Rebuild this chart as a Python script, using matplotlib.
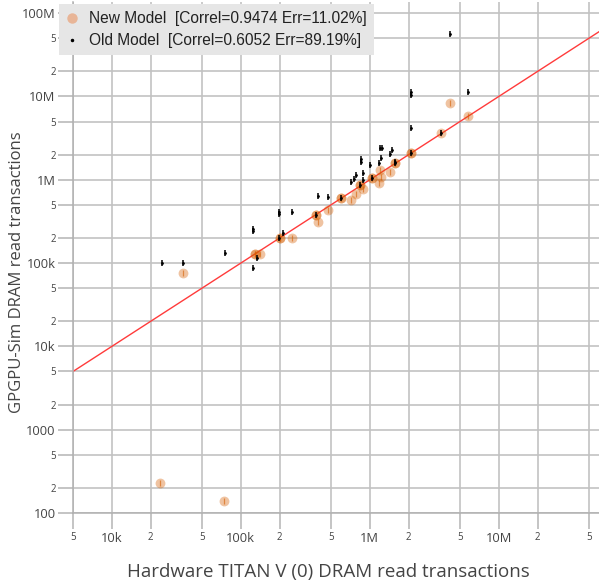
import numpy as np
import matplotlib
matplotlib.use("Agg")
import matplotlib.pyplot as plt
from matplotlib.lines import Line2D

# New model: (hardware, simulator) DRAM read transactions
new_hw = [23.6e3, 74e3, 35.8e3, 129e3, 129e3, 140e3, 201e3, 201e3, 250e3, 380e3, 380e3,
          398e3, 476e3, 598e3, 598e3, 711e3, 777e3, 843e3, 843e3, 891e3, 1.04e6, 1.04e6,
          1.17e6, 1.2e6, 1.23e6, 1.43e6, 1.57e6, 1.57e6, 2.07e6, 2.07e6, 3.54e6, 4.18e6, 5.74e6]
new_sim = [229, 139, 75e3, 128e3, 128e3, 128e3, 199e3, 199e3, 202e3, 378e3, 378e3,
           314e3, 434e3, 604e3, 604e3, 571e3, 676e3, 860e3, 860e3, 770e3, 1.05e6, 1.05e6,
           923e3, 1.31e6, 1.07e6, 1.25e6, 1.58e6, 1.58e6, 2.11e6, 2.11e6, 3.61e6, 8.28e6, 5.83e6]

# Old model
old_hw = [24.4e3, 35.8e3, 75.4e3, 125e3, 125e3, 125e3, 133e3, 199e3, 199e3, 211e3, 199e3,
          250e3, 380e3, 399e3, 476e3, 598e3, 711e3, 754e3, 776e3, 849e3, 849e3, 891e3,
          891e3, 843e3, 1.0e6, 1.04e6, 1.17e6, 1.21e6, 1.25e6, 1.23e6, 1.43e6, 1.49e6,
          1.57e6, 1.57e6, 2.07e6, 2.07e6, 2.07e6, 2.07e6, 3.54e6, 5.74e6, 4.18e6]
old_sim = [99.6e3, 99.6e3, 131e3, 255e3, 240e3, 86.5e3, 116e3, 415e3, 390e3, 228e3, 199e3,
           410e3, 378e3, 646e3, 627e3, 604e3, 948e3, 1.01e6, 1.13e6, 1.78e6, 1.64e6, 1.22e6,
           995e3, 860e3, 1.51e6, 1.05e6, 1.58e6, 2.39e6, 2.39e6, 1.81e6, 2.04e6, 2.28e6,
           1.65e6, 1.58e6, 11.4e6, 10.4e6, 4.22e6, 2.11e6, 3.61e6, 11.4e6, 56e6]

new_label = "New Model  [Correl=0.9474 Err=11.02%]"
old_label = "Old Model  [Correl=0.6052 Err=89.19%]"

x_ticks = [5e3, 1e4, 2e4, 5e4, 1e5, 2e5, 5e5, 1e6, 2e6, 5e6, 1e7, 2e7, 5e7]
x_labels = ["5", "10k", "2", "5", "100k", "2", "5", "1M", "2", "5", "10M", "2", "5"]
y_ticks = [1e2, 2e2, 5e2, 1e3, 2e3, 5e3, 1e4, 2e4, 5e4, 1e5, 2e5, 5e5,
           1e6, 2e6, 5e6, 1e7, 2e7, 5e7, 1e8]
y_labels = ["100", "2", "5", "1000", "2", "5", "10k", "2", "5", "100k", "2", "5",
            "1M", "2", "5", "10M", "2", "5", "100M"]

W, H = 599, 582
fig = plt.figure(figsize=(W / 100, H / 100), dpi=100)
ax = fig.add_axes([73 / W, (H - 513) / H, 526 / W, 511 / H])
ax.set_xscale("log")
ax.set_yscale("log")
ax.set_xlim(5e3, 10 ** 7.777)
ax.set_ylim(100, 10 ** 8.134)

grid_c = "#c2c2c2"
ax.set_xticks(x_ticks)
ax.set_xticklabels(x_labels)
ax.set_yticks(y_ticks)
ax.set_yticklabels(y_labels)
ax.minorticks_off()
ax.grid(True, color=grid_c, lw=1.2)
ax.set_axisbelow(True)
ax.tick_params(axis="x", length=11.5, pad=2)
ax.tick_params(axis="y", length=11, pad=1.5)
ax.tick_params(width=1.1, color="#b4b4b4", labelcolor="#444444")
for t in ax.get_xticklabels() + ax.get_yticklabels():
    t.set_family("Open Sans")
    t.set_fontsize(7 if len(t.get_text()) == 1 else 9.3)
for s in ["top", "right"]:
    ax.spines[s].set_visible(False)
for s in ["left", "bottom"]:
    ax.spines[s].set_color("#b0b0b0")
    ax.spines[s].set_linewidth(1.1)

# y = x reference line
ref = np.array([1e3, 1e9])
ax.plot(ref, ref, color="#ff3b3b", lw=1, zorder=2)

orange = "#d55e00"
ax.scatter(new_hw, new_sim, s=50, color=orange, alpha=0.37, lw=0, zorder=3)
ax.plot(new_hw, new_sim, ls="none", marker="|", ms=4.5, mew=0.9, color=orange, alpha=0.6, zorder=4)
ax.plot(old_hw, old_sim, ls="none", marker="|", ms=5, mew=1.1, color="black", zorder=5)
ax.plot(old_hw, old_sim, ls="none", marker="o", ms=2, mew=0, color="black", zorder=5)

handles = [
    Line2D([], [], ls="none", marker="o", ms=7.5, color="#e8b597", mec="none"),
    Line2D([], [], ls="none", marker=".", ms=3, color="black"),
]
leg = fig.legend(handles, [new_label, old_label], loc="upper left",
                 bbox_to_anchor=(59 / W, 1 - 4 / H), frameon=True, fancybox=False,
                 facecolor="#e6e6e6", edgecolor="none", framealpha=1,
                 prop={"family": "Liberation Sans", "size": 11.2},
                 handlelength=0.8, handletextpad=0.7, labelspacing=0.45,
                 borderpad=0.45, borderaxespad=0)
for t in leg.get_texts():
    t.set_color("#222222")

fig.text(328 / W, 1 - 572 / H, "Hardware TITAN V (0) DRAM read transactions",
         family="Open Sans", fontsize=13.5, color="#444444", ha="center", va="center")
fig.text(17 / W, 1 - 272 / H, "GPGPU-Sim DRAM read transactions",
         family="Open Sans", fontsize=12, color="#444444", ha="center", va="center",
         rotation=90)

fig.savefig("out.png", dpi=100)
